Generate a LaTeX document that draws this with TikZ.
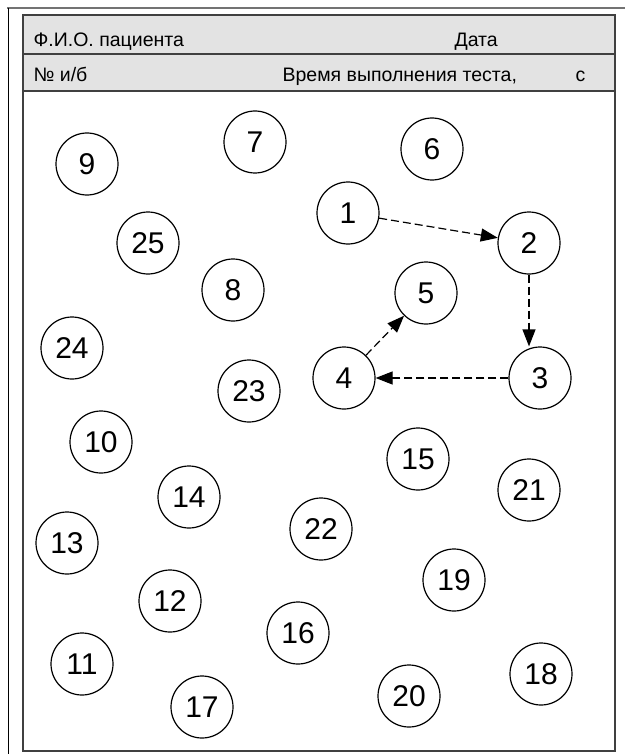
\documentclass[tikz,border=0pt]{standalone}
\usepackage{fontspec}
\setmainfont{Liberation Sans}
\usepackage{tikz}
\usetikzlibrary{arrows.meta}

\begin{document}
\begin{tikzpicture}[x=1pt,y=-1pt,line width=1.2pt,
  num/.style={draw,circle,minimum size=62pt,inner sep=0pt,font=\fontsize{30}{30}\selectfont},
  hdr/.style={anchor=base west,inner sep=0pt,font=\fontsize{19.5}{19.5}\selectfont},
  link/.style={->,dash pattern=on 8pt off 4pt},
  >={Triangle[length=17pt,width=13pt]}]
 \useasboundingbox (0,0) rectangle (625,754);

 % outer frame
 \draw[black!55, line width=2pt] (7,8) -- (625,8);
 \draw[line width=0.8pt] (8,8) -- (8,754);

 % form head
 \draw[fill=black!11, draw=black!75, line width=1.6pt] (23,15) rectangle (615,91);
 \draw[black!75, line width=1.6pt] (23,54) -- (615,54);
 \draw[black!75, line width=1.6pt] (23,15) rectangle (615,751);

 \node[hdr] (fio)  at (33,47)  {Ф.И.О. пациента};
 \node[hdr] (date) at (454,47) {Дата};
 \node[hdr] (card) at (33,82)  {№ и/б};
 \node[hdr] (time) at (282,82) {Время выполнения теста,};
 \node[hdr] (sec)  at (575,82) {с};

 % numbered circles
 \foreach \n/\x/\y in {1/348/213, 2/529/243, 3/540/378, 4/344/378, 5/426/293,
   6/432/149, 7/255/142, 8/233/290, 9/87/164, 10/101/442, 11/82/664,
   12/170/601, 13/67/543, 14/189/497, 15/418/459, 16/298/633, 17/202/707,
   18/541/674, 19/454/580, 20/409/696, 21/529/490, 22/321/529, 23/249/391,
   24/72/348, 25/148/243}
   \node[num] (c\n) at (\x,\y) {\n};

 \draw[link] (c1) -- (c2);
 \draw[link] (c2.south) -- (c2.south |- c3.north);
 \draw[link] (c3) -- (c4);
 \draw[link] (c4) -- (c5);
\end{tikzpicture}
\end{document}
